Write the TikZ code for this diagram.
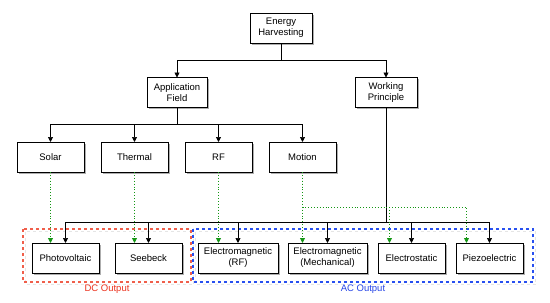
\documentclass[tikz,border=0pt]{standalone}
\usepackage{fontspec}
\setmainfont{Liberation Sans}
\usepackage{tikz}
\usetikzlibrary{arrows.meta, positioning, fit, shadows, calc, backgrounds}
\definecolor{dotgreen}{RGB}{20,150,20}
\definecolor{dcred}{RGB}{235,50,30}
\definecolor{dcline}{RGB}{240,95,75}
\definecolor{acblue}{RGB}{40,70,230}
\definecolor{acline}{RGB}{40,80,240}
\tikzset{
  blk/.style={rectangle, draw=black, fill=white, line width=0.8pt,
              minimum width=67pt, minimum height=30pt, inner sep=2pt,
              outer sep=0pt, align=center,
              font=\fontsize{9.5}{11}\selectfont,
              drop shadow={shadow xshift=1.5pt, shadow yshift=-1.5pt,
                           fill=black!45, opacity=0.7}},
  wblk/.style={blk, minimum width=80pt},
  arr/.style={-{Triangle[length=5pt,width=5pt]}, line width=0.7pt},
  garr/.style={-{Triangle[length=5pt,width=5pt]}, line width=0.9pt,
               dotted, color=dotgreen},
}

\begin{document}
\begin{tikzpicture}[x=1pt, y=1pt,
    grp/.style={inner sep=0pt, outer sep=0pt},
    gline/.style={dashed, line width=1.1pt},
    gshade/.style={dashed, line width=1.6pt, draw=black!10},
    glbl/.style={font=\fontsize{9.5}{11}\selectfont, inner sep=0pt},
  ]
  \useasboundingbox (0,0) rectangle (550,-303);

  % top levels
  \node[blk, minimum width=62pt] (eh) at (281,-28)   {Energy\\Harvesting};
  \node[blk, minimum width=60pt] (af) at (177,-92.5) {Application\\Field};
  \node[blk, minimum width=62pt] (wp) at (386,-92.5) {Working\\Principle};

  % application fields
  \node[blk] (solar) at (50.5,-157)        {Solar};
  \node[blk, right=17pt of solar]   (thermal) {Thermal};
  \node[blk, right=17pt of thermal] (rf)      {RF};
  \node[blk, right=17pt of rf]      (motion)  {Motion};

  % working principles
  \node[blk] (pv) at (65.5,-258)           {Photovoltaic};
  \node[blk, right=16pt of pv]  (sb)     {Seebeck};
  \node[wblk, right=16pt of sb] (emrf)   {Electromagnetic\\(RF)};
  \node[wblk, minimum width=79pt, right=10pt of emrf] (emmech) {Electromagnetic\\(Mechanical)};
  \node[blk, right=11pt of emmech] (es)  {Electrostatic};
  \node[blk, right=11pt of es]     (pz)  {Piezoelectric};

  % output groups
  \node[grp, fit={([shift={(-9pt,14pt)}]pv.north west)
                  ([shift={(9pt,-9pt)}]sb.south east)}] (dc) {};
  \node[grp, fit={([shift={(-5pt,14pt)}]emrf.north west)
                  ([shift={(10pt,-9pt)}]pz.south east)}] (ac) {};
  \begin{scope}[on background layer]
    \foreach \g in {dc,ac}
      \draw[gshade] ([shift={(2.5pt,-2.5pt)}]\g.north west)
                    rectangle ([shift={(2.5pt,-2.5pt)}]\g.south east);
    \draw[gline, dcline] (dc.north west) rectangle (dc.south east);
    \draw[gline, acline] (ac.north west) rectangle (ac.south east);
  \end{scope}
  \node[glbl, text=dcred, below=3pt of dc]  (dcl) {DC Output};
  \node[glbl, text=acblue, below=3pt of ac] (acl) {AC Output};

  % tree
  \draw[arr] (eh.south) -- ++(0,-17) -| (af.north);
  \draw[arr] (eh.south) -- ++(0,-17) -| (wp.north);
  \foreach \n in {solar,thermal,rf,motion}
    \draw[arr] (af.south) -- ++(0,-17) -| (\n.north);
  \foreach \n in {pv,sb,emrf,emmech,es,pz}
    \draw[arr] (wp.south) -- ++(0,-115) -| (\n.north);

  % field -> principle
  \draw[garr] (solar.south)   -- (solar.south |- pv.north);
  \draw[garr] (thermal.south) -- (thermal.south |- sb.north);
  \draw[garr] (rf.south)      -- (rf.south |- emrf.north);
  \draw[garr] (motion.south)  -- (motion.south |- emmech.north);
  \coordinate (mb) at ($(motion.south)+(0,-35)$);
  \coordinate (esin) at ([xshift=-22pt]es.north);
  \draw[garr] (motion.south) -- (mb) -| ([xshift=-23pt]pz.north);
  \draw[garr] (mb -| esin) -- (esin);
\end{tikzpicture}
\end{document}
